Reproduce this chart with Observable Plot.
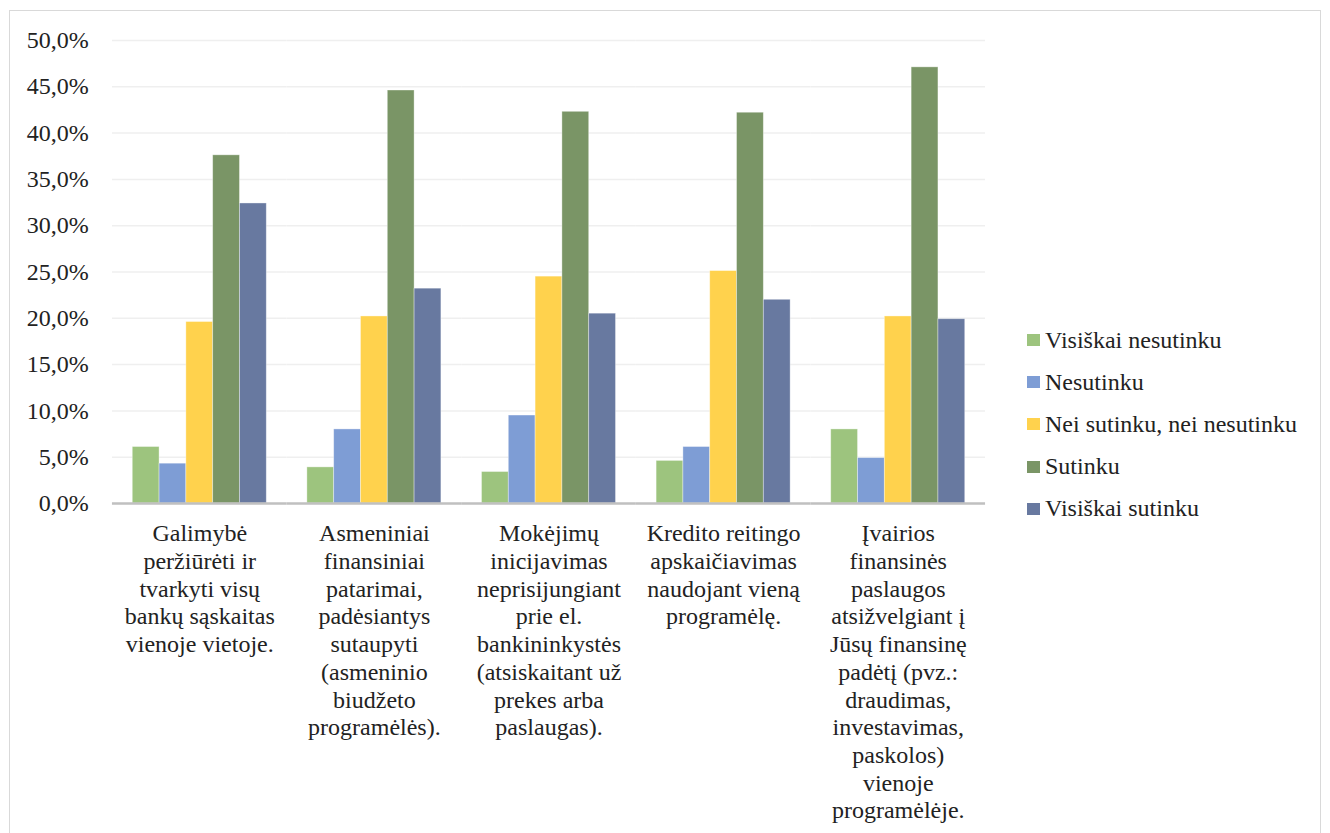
<!DOCTYPE html>
<html>
<head>
<meta charset="utf-8">
<script src="https://cdn.jsdelivr.net/npm/d3@7"></script>
<script src="https://cdn.jsdelivr.net/npm/@observablehq/plot@0.6"></script>
<style>
  html, body { margin: 0; padding: 0; background: #fff; }
  #wrap { position: relative; width: 1330px; height: 833px; overflow: hidden; font-family: 'Liberation Serif', 'Times New Roman', Times, serif; }
  #frame { position: absolute; left: 9px; top: 10px; width: 1312px; height: 840px; border: 1px solid #d9d9d9; box-sizing: border-box; }
  #chart { position: absolute; left: 0; top: 0; }
  #legend { position: absolute; left: 1027px; top: 319px; color: #222; font-size: 24px; }
  .item { display: flex; align-items: center; height: 42.2px; white-space: nowrap; }
  .sw { width: 13px; height: 12px; margin-right: 5px; flex: none; }
</style>
</head>
<body>
<div id="wrap">
  <div id="frame"></div>
  <div id="chart"></div>
  <div id="legend"></div>
</div>
<script>
const categories = [
  "Galimybė\nperžiūrėti ir\ntvarkyti visų\nbankų sąskaitas\nvienoje vietoje.",
  "Asmeniniai\nfinansiniai\npatarimai,\npadėsiantys\nsutaupyti\n(asmeninio\nbiudžeto\nprogramėlės).",
  "Mokėjimų\ninicijavimas\nneprisijungiant\nprie el.\nbankininkystės\n(atsiskaitant už\nprekes arba\npaslaugas).",
  "Kredito reitingo\napskaičiavimas\nnaudojant vieną\nprogramėlę.",
  "Įvairios\nfinansinės\npaslaugos\natsižvelgiant į\nJūsų finansinę\npadėtį (pvz.:\ndraudimas,\ninvestavimas,\npaskolos)\nvienoje\nprogramėlėje."
];
const series = ["Visiškai nesutinku", "Nesutinku", "Nei sutinku, nei nesutinku", "Sutinku", "Visiškai sutinku"];
const visiskaiNesutinku = [6.1, 3.9, 3.4, 4.6, 8.0];
const nesutinku = [4.3, 8.0, 9.5, 6.1, 4.9];
const neiSutinkuNeiNesutinku = [19.6, 20.2, 24.5, 25.1, 20.2];
const sutinku = [37.6, 44.6, 42.3, 42.2, 47.1];
const visiskaiSutinku = [32.4, 23.2, 20.5, 22.0, 19.9];
const colors = ["#9dc47e", "#7e9dd5", "#ffd24d", "#7a9566", "#6879a0"];
const yTicks = [0, 5, 10, 15, 20, 25, 30, 35, 40, 45, 50];

const seriesValues = [visiskaiNesutinku, nesutinku, neiSutinkuNeiNesutinku, sutinku, visiskaiSutinku];
const data = [];
categories.forEach((c, i) => {
  series.forEach((s, j) => data.push({category: c, series: s, value: seriesValues[j][i]}));
});

const chart = Plot.plot({
  width: 1330,
  height: 833,
  marginLeft: 112,
  marginRight: 345,
  marginTop: 40,
  marginBottom: 330,
  style: {fontFamily: "'Liberation Serif', 'Times New Roman', Times, serif", fontSize: "24px", color: "#222", background: "transparent"},
  fx: {domain: categories, paddingInner: 0.2325, paddingOuter: 0.116, round: false, label: null},
  x: {domain: series, padding: 0, round: false, axis: null},
  y: {domain: [0, 50]},
  color: {domain: series, range: colors},
  marks: [
    Plot.gridY(yTicks, {stroke: "#efefef", strokeOpacity: 1, strokeWidth: 1.5, insetLeft: -20.3, insetRight: -20.3}),
    Plot.barY(data, {fx: "category", x: "series", y: "value", fill: "series", stroke: "#fff", strokeOpacity: 0.45, strokeWidth: 0.8}),
    Plot.ruleY([0], {stroke: "#c0c0c0", strokeWidth: 2.5, insetLeft: -20.3, insetRight: -20.3}),
    Plot.axisY(yTicks, {tickSize: 0, tickPadding: 44, tickFormat: d => d.toFixed(1).replace(".", ",") + "%", label: null, fill: "#222"}),
    Plot.axisFx({anchor: "bottom", tickSize: 0, tickPadding: 18, lineHeight: 1.155, label: null, fill: "#222"})
  ]
});
document.getElementById("chart").appendChild(chart);

const legend = document.getElementById("legend");
series.forEach((s, i) => {
  const item = document.createElement("div");
  item.className = "item";
  const sw = document.createElement("span");
  sw.className = "sw";
  sw.style.background = colors[i];
  const t = document.createElement("span");
  t.textContent = s;
  item.appendChild(sw);
  item.appendChild(t);
  legend.appendChild(item);
});
</script>
</body>
</html>
